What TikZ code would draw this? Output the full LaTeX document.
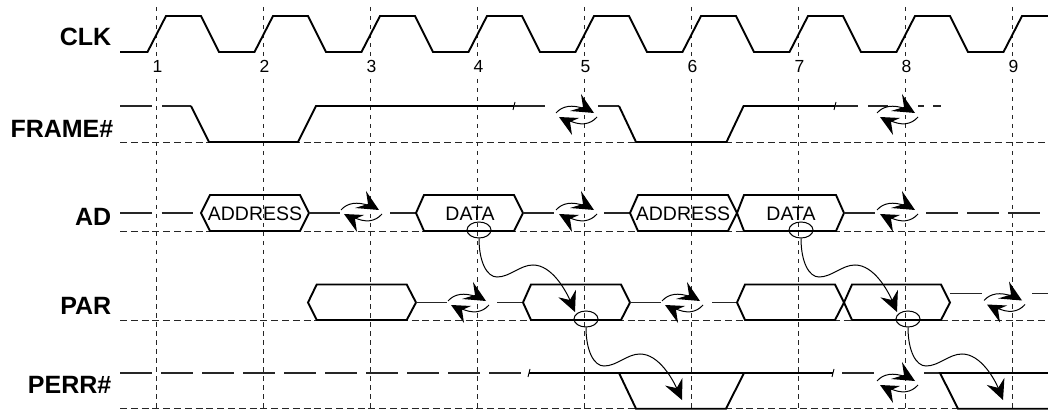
\documentclass[tikz,border=0pt]{standalone}
\usepackage{fontspec}
\setmainfont{Liberation Sans}
\usetikzlibrary{arrows.meta,shapes.geometric}
\tikzset{
  gridline/.style={black!85,line width=1pt,dash pattern=on 4.5pt off 4.5pt},
  baseline dash/.style={black!85,line width=0.95pt,dash pattern=on 7pt off 3.8pt},
  thinsig/.style={black!85,line width=1.1pt},
  longdash/.style={thinsig,dash pattern=on 32pt off 9pt},
  thicksig/.style={black,line width=1.9pt,line join=miter},
  tick mark/.style={black,line width=0.9pt},
  siglabel/.style={font=\fontsize{25}{25}\selectfont\bfseries,anchor=base east,inner sep=0pt},
  clocknum/.style={font=\fontsize{17.5}{18}\selectfont,fill=white,inner sep=1.5pt},
  hextext/.style={font=\fontsize{19.5}{20}\selectfont,anchor=base,inner sep=0pt,text=black},
  probe/.style={ellipse,draw,black,line width=1pt,minimum width=24pt,minimum height=16pt,inner sep=0pt},
  wire/.style={black,line width=1pt,-{Stealth[length=20pt,width=19pt,inset=7pt]}},
  swapicon/.pic={
    \draw[black,line width=1pt] (-21,-2) .. controls (-15,-9) and (-5,-11) .. (8,-6);
    \fill[black] (17,-2) -- (4,-21) -- (6,-8) -- (-7,-4) -- cycle;
    \draw[black,line width=1pt] (20,2) .. controls (13,10) and (3,11) .. (-9,5);
    \fill[black] (-18,2) -- (-5,20) -- (-7,7) -- (2,3) -- cycle;
  }
}
\newcommand{\wave}[3]{%
  \draw[wire,shift={(#2,0)}] (#1.south) .. controls (479,262) and (487,277) .. (497,277)
    .. controls (510,277) and (520,265) .. (533,265)
    .. controls (552,265) and (566,291) .. (#3);}
\begin{document}
\begin{tikzpicture}[x=1pt,y=-1pt]
\useasboundingbox (0,0) rectangle (1048,411);
\clip (0,0) rectangle (1048,411);
% grid
\foreach \k in {0,...,8}{
  \draw[gridline] ({156.5+107*\k},7) -- ({156.5+107*\k},411);
}
% baselines
\foreach \y in {142,231,320,408.7}{
  \draw[baseline dash] (120,\y) -- (1048,\y);
}
% clock numbers
\foreach \k [evaluate=\k as \n using int(\k+1)] in {0,...,8}{
  \node[clocknum] (num\n) at ({157.5+107*\k},66.5) {\n};
}
% labels
\node[siglabel] (lclk) at (111.5,45.5) {CLK};
\node[siglabel] (lframe) at (113.5,138) {FRAME\#};
\node[siglabel] (lad) at (111.5,226) {AD};
\node[siglabel] (lpar) at (111.5,314) {PAR};
\node[siglabel] (lperr) at (111.5,393) {PERR\#};
% CLK
\draw[thicksig] (120,52) -- (147.5,52)
  \foreach \k in {0,...,8}{
    -- ({147.5+107*\k},52) -- ({166+107*\k},16) -- ({201+107*\k},16) -- ({219+107*\k},52)
  } -- (1048,52);
% FRAME
\draw[thinsig] (120,106) -- (152,106) (162,106) -- (191,106);
\draw[thicksig] (191,106) -- (209,142) -- (298,142) -- (316,106) -- (514,106);
\draw[tick mark] (513,110) -- (515,102);
\draw[thinsig] (514,106) -- (545,106) (598,106) -- (619,106);
\draw[thicksig] (619,106) -- (636,142) -- (726.5,142) -- (743.6,106) -- (835,106);
\draw[tick mark] (834,110) -- (836,102);
\draw[thinsig] (835,106) -- (858,106) (868,106) -- (888,106) (918,106) -- (923.6,106) (933,106) -- (941,106);
\pic at (577,115) {swapicon};
\pic at (898,115) {swapicon};
% AD
\draw[thinsig] (120,213) -- (152,213) (161.5,213) -- (193,213);
\draw[thicksig] (201,213) -- (210,195) -- (300,195) -- (309,213) -- (300,231) -- (210,231) -- cycle;
\node[hextext] (t1) at (255,221) {ADDRESS};
\draw[thinsig] (309,213) -- (340,213) (390,213) -- (416,213);
\pic at (362,212) {swapicon};
\draw[thicksig] (416,213) -- (424,195) -- (514,195) -- (523,213) -- (514,231) -- (424,231) -- cycle;
\node[hextext] (t2) at (470,221) {DATA};
\draw[thinsig] (523,213) -- (554,213) (604,213) -- (630,213);
\pic at (577,212) {swapicon};
\draw[thicksig] (630,213) -- (638,195) -- (728,195) -- (737,213) -- (728,231) -- (638,231) -- cycle;
\node[hextext] (t3) at (683,221) {ADDRESS};
\draw[thicksig] (737,213) -- (744,195) -- (836,195) -- (844,213) -- (836,231) -- (744,231) -- cycle;
\node[hextext] (t4) at (791,221) {DATA};
\draw[thinsig] (844,213) -- (875,213);
\pic at (898,212) {swapicon};
\draw[thinsig] (926,213) -- (958,213) (967,213) -- (999,213) (1008,213) -- (1040,213);
% PAR
\draw[thicksig] (308,302.5) -- (316.7,284.5) -- (406.7,284.5) -- (416,302.5) -- (406.7,320) -- (316.7,320) -- cycle;
\draw[thinsig] (416,302.5) -- (447,302.5) (497,302.5) -- (523,302.5);
\pic at (469,303) {swapicon};
\draw[thicksig] (523,302.5) -- (531,284.5) -- (621,284.5) -- (630,302.5) -- (621,320) -- (531,320) -- cycle;
\draw[thinsig] (630,302.5) -- (661,302.5) (712,302.5) -- (737,302.5);
\pic at (683,303) {swapicon};
\draw[thicksig] (737,302.5) -- (745,284.5) -- (835,284.5) -- (844,302.5) -- (835,320) -- (745,320) -- cycle;
\draw[thicksig] (844,302.5) -- (852,284.5) -- (941,284.5) -- (950,302.5) -- (941,320) -- (852,320) -- cycle;
\draw[thinsig] (950,293.3) -- (982,293.3) (1032,293.3) -- (1048,293.3);
\pic at (1005,302.5) {swapicon};
% PERR
\draw[longdash] (120,373) -- (521,373);
\draw[thicksig] (529,373) -- (833,373);
\draw[tick mark] (528,377) -- (530,369);
\draw[thicksig] (619,373) -- (636,408.7) -- (726,408.7) -- (744,373);
\draw[tick mark] (832,377) -- (834,369);
\draw[thinsig] (842,373) -- (874,373) (924,373) -- (942,373);
\pic at (898,383) {swapicon};
\draw[thicksig] (1048,373) -- (940,373) -- (958,408.7) -- (1048,408.7);
% probes and causal arrows
\node[probe] (o1) at (479,230) {};
\node[probe] (o2) at (586,319) {};
\node[probe] (o3) at (801,230) {};
\node[probe] (o4) at (908,319) {};
\coordinate (a1) at (575,312);
\coordinate (a2) at (682,400);
\coordinate (a3) at (897,312);
\coordinate (a4) at (1003,400);
\wave{o1}{0}{a1}
\wave{o3}{322}{a3}
\begin{scope}[yshift=-89pt]
\wave{o2}{107}{a2}
\wave{o4}{429}{a4}
\end{scope}
\end{tikzpicture}
\end{document}
